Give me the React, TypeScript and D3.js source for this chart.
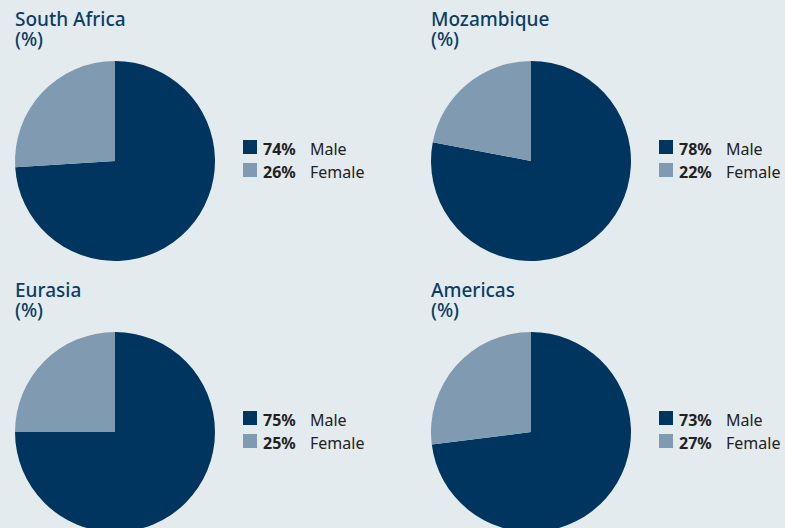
import React from "react";
import * as d3 from "d3";

const regions = ["South Africa", "Mozambique", "Eurasia", "Americas"];
const maleValues = [74, 78, 75, 73];
const femaleValues = [26, 22, 25, 27];
const categories = ["Male", "Female"];

const W = 785;
const H = 528;
const BG = "#e4ebef";
const COLORS = ["#00355f", "#809ab2"];
const TITLE = "#0b3d66";

export default function App() {
  if (typeof document !== "undefined") {
    document.body.style.margin = "0";
    document.body.style.background = BG;
  }
  const pie = d3.pie<number>().sort(null).value((d) => d);
  const arc = d3.arc<d3.PieArcDatum<number>>().innerRadius(0).outerRadius(100);
  const cols = d3.scaleOrdinal<number, number>().domain([0, 1]).range([0, 416]);
  const rows = d3.scaleOrdinal<number, number>().domain([0, 1]).range([0, 271]);

  return (
    <svg width={W} height={H} style={{ display: "block", background: BG }} fontFamily="'Noto Sans', sans-serif">
      <rect width={W} height={H} fill={BG} />
      {regions.map((name, i) => {
        const ox = cols(i % 2);
        const oy = rows(Math.floor(i / 2));
        const vals = [maleValues[i], femaleValues[i]];
        const arcs = pie(vals);
        return (
          <g key={name} transform={`translate(${ox},${oy})`}>
            <text x={15} y={26} fontSize={19} fill={TITLE} fontWeight={500}>
              <tspan x={15} y={26}>{name}</tspan>
              <tspan x={15} y={46}>(%)</tspan>
            </text>
            <g transform="translate(115,161)">
              {arcs.map((a, j) => (
                <path key={j} d={arc(a) || ""} fill={COLORS[j]} />
              ))}
            </g>
            {categories.map((c, j) => (
              <g key={c} transform={`translate(243,${140 + j * 23})`}>
                <rect width={14} height={14} fill={COLORS[j]} />
                <text x={20} y={14.5} fontSize={16} fontWeight={700} fill="#222">{vals[j]}%</text>
                <text x={67} y={14.5} fontSize={16} fill="#222">{c}</text>
              </g>
            ))}
          </g>
        );
      })}
    </svg>
  );
}
